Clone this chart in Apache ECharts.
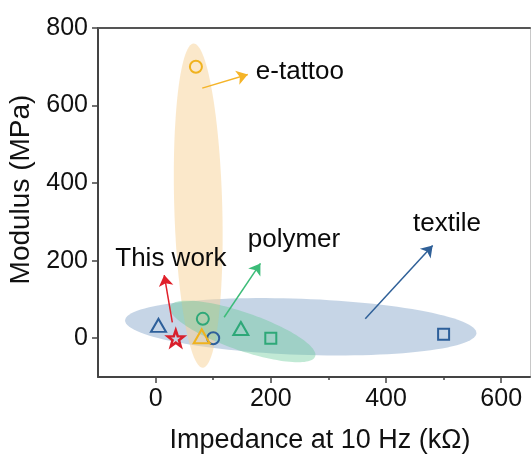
<!DOCTYPE html>
<html>
<head>
<meta charset="utf-8">
<script src="https://cdn.jsdelivr.net/npm/echarts@6/dist/echarts.min.js"></script>
<style>html,body{margin:0;padding:0;background:#fff}#c{width:531px;height:456px}</style>
</head>
<body>
<div id="c"></div>
<script>
// ---- data (x: impedance at 10 Hz, kΩ ; y: modulus, MPa) ----
const xTickLabels = [0, 200, 400, 600];
const xMinorTicks = [100, 300, 500];
const yTickLabels = [0, 200, 400, 600, 800];

const textileCircle = [[100, 0]];
const textileTriangle = [[5, 33]];
const textileSquare = [[500, 10]];
const polymerCircle = [[82, 50]];
const polymerTriangle = [[148, 25]];
const polymerSquare = [[200, 0]];
const tattooCircle = [[70, 700]];
const tattooTriangle = [[80, 5]];
const thisWork = [[35, 0]];

// region ellipses: major-axis end points [x1, y1, x2, y2]
const textileRegion = [-53, 46, 557, 13];
const tattooRegion = [66, 760, 82, -76];
const polymerRegion = [25, 82, 277, -47];

// annotation arrows [xStart, yStart, xEnd, yEnd]
const tattooArrow = [81, 645, 160, 680];
const thisWorkArrow = [29, 41, 15, 163];
const polymerArrow = [119, 54, 182, 193];
const textileArrow = [364, 50, 481, 239];

// annotation labels [x, y] (left anchor)
const labelNames = ['e-tattoo', 'This work', 'polymer', 'textile'];
const labelPos = [[174, 686], [-70, 206], [160, 255], [447, 294]];

// ---- styles ----
const FONT = "'Liberation Sans', Arial, sans-serif";
const C_BLUE = '#2d5f9a', C_GREEN = '#2ea878', C_YELLOW = '#f0b21e', C_RED = '#d8202c';
const regionHalfWidthPx = {textile: 28, tattoo: 24, polymer: 19};

function ellipseSeries(name, ends, halfW, fill) {
  return {
    type: 'custom', name: name, silent: true, z: 1,
    data: [ends],
    encode: {x: [0, 2], y: [1, 3]},
    renderItem: function (params, api) {
      const p1 = api.coord([api.value(0), api.value(1)]);
      const p2 = api.coord([api.value(2), api.value(3)]);
      const cx = (p1[0] + p2[0]) / 2, cy = (p1[1] + p2[1]) / 2;
      const dx = p2[0] - p1[0], dy = p2[1] - p1[1];
      const a = Math.sqrt(dx * dx + dy * dy) / 2;
      const ang = Math.atan2(dy, dx);
      const ca = Math.cos(ang), sa = Math.sin(ang);
      const pts = [];
      for (let i = 0; i < 120; i++) {
        const t = 2 * Math.PI * i / 120;
        const ex = a * Math.cos(t), ey = halfW * Math.sin(t);
        pts.push([cx + ex * ca - ey * sa, cy + ex * sa + ey * ca]);
      }
      return {type: 'polygon', shape: {points: pts}, style: {fill: fill}};
    }
  };
}

function markerSeries(data, symbol, size, color, bw) {
  return {
    type: 'scatter', data: data, symbol: symbol, symbolSize: size, z: 5,
    itemStyle: {color: 'rgba(0,0,0,0)', borderColor: color, borderWidth: bw || 2, opacity: 1},
    emphasis: {disabled: true}
  };
}

const STAR = 'path://M50,2 L61.8,36.2 L97.6,36.9 L69,58.6 L79.4,93 L50,72.5 L20.6,93 L31,58.6 L2.4,36.9 L38.2,36.2 Z';

const arrows = [tattooArrow, thisWorkArrow, polymerArrow, textileArrow];
const arrowColors = ['#f5b428', '#e0202a', '#3cbc78', '#2f6098'];

const option = {
  animation: false,
  backgroundColor: '#fff',
  textStyle: {fontFamily: FONT},
  grid: {left: 98, right: 1, top: 28, bottom: 79, outerBoundsMode: 'none', containLabel: false},
  xAxis: [
    {
      type: 'value', min: -100, max: 650, interval: 100, position: 'bottom',
      name: 'Impedance at 10 Hz (kΩ)', nameLocation: 'middle', nameGap: 50,
      nameTextStyle: {fontSize: 27, color: '#111', fontFamily: FONT, padding: [0, 0, 0, 12]},
      axisLine: {show: true, onZero: false, lineStyle: {color: '#444', width: 2}},
      axisTick: {show: true, length: 6, customValues: xTickLabels, lineStyle: {color: '#444', width: 1.5}},
      axisLabel: {customValues: xTickLabels, fontSize: 25, color: '#111', margin: 10, fontFamily: FONT},
      splitLine: {show: false}
    },
    {
      type: 'value', min: -100, max: 650, interval: 100, position: 'bottom',
      axisLine: {show: false, onZero: false},
      axisTick: {show: true, length: 3, customValues: xMinorTicks, lineStyle: {color: '#444', width: 1.5}},
      axisLabel: {show: false}, splitLine: {show: false}
    },
    {
      type: 'value', min: -100, max: 650, position: 'top',
      axisLine: {show: true, onZero: false, lineStyle: {color: '#555', width: 2}},
      axisTick: {show: false}, axisLabel: {show: false}, splitLine: {show: false}
    }
  ],
  yAxis: [
    {
      type: 'value', min: -100, max: 800, interval: 100, position: 'left',
      name: 'Modulus (MPa)', nameLocation: 'middle', nameGap: 62, nameRotate: 90,
      nameTextStyle: {fontSize: 28, color: '#111', fontFamily: FONT, padding: [0, 0, 0, 26]},
      axisLine: {show: true, onZero: false, lineStyle: {color: '#444', width: 2}},
      axisTick: {show: true, length: 6, customValues: yTickLabels, lineStyle: {color: '#444', width: 1.5}},
      axisLabel: {customValues: yTickLabels, fontSize: 25, color: '#111', margin: 10, fontFamily: FONT},
      splitLine: {show: false}
    },
    {
      type: 'value', min: -100, max: 800, position: 'right',
      axisLine: {show: true, onZero: false, lineStyle: {color: '#c8c8c8', width: 1}},
      axisTick: {show: false}, axisLabel: {show: false}, splitLine: {show: false}
    }
  ],
  series: [
    ellipseSeries('textile region', textileRegion, regionHalfWidthPx.textile, 'rgba(120,155,195,0.42)'),
    ellipseSeries('e-tattoo region', tattooRegion, regionHalfWidthPx.tattoo, 'rgba(248,210,150,0.5)'),
    ellipseSeries('polymer region', polymerRegion, regionHalfWidthPx.polymer, 'rgba(100,200,150,0.40)'),
    markerSeries(textileTriangle, 'triangle', [15, 13], C_BLUE),
    markerSeries(textileCircle, 'circle', 12, C_BLUE),
    markerSeries(textileSquare, 'rect', 11, C_BLUE),
    markerSeries(polymerCircle, 'circle', 12, C_GREEN),
    markerSeries(polymerTriangle, 'triangle', [15, 13], C_GREEN),
    markerSeries(polymerSquare, 'rect', 11, C_GREEN),
    markerSeries(tattooCircle, 'circle', 12, C_YELLOW),
    markerSeries(tattooTriangle, 'triangle', [16, 14], C_YELLOW),
    markerSeries(thisWork, STAR, 16, C_RED, 2.5),
    {
      type: 'lines', coordinateSystem: 'cartesian2d', z: 6, silent: true,
      symbol: ['none', 'arrow'], symbolSize: [9, 11],
      lineStyle: {width: 1.5, opacity: 1},
      data: arrows.map(function (a, i) {
        return {coords: [[a[0], a[1]], [a[2], a[3]]], lineStyle: {color: arrowColors[i]}};
      })
    },
    {
      type: 'custom', z: 7, silent: true,
      data: labelPos.map(function (p, i) { return {value: p, name: labelNames[i]}; }),
      encode: {x: 0, y: 1},
      renderItem: function (params, api) {
        const p = api.coord([api.value(0), api.value(1)]);
        return {
          type: 'text', x: p[0], y: p[1],
          style: {
            text: labelNames[params.dataIndex], fill: '#0a0a0a',
            font: '26px ' + FONT, align: 'left', verticalAlign: 'middle'
          }
        };
      }
    }
  ]
};

const chart = echarts.init(document.getElementById('c'), null, {renderer: 'canvas'});
chart.setOption(option);
</script>
</body>
</html>
